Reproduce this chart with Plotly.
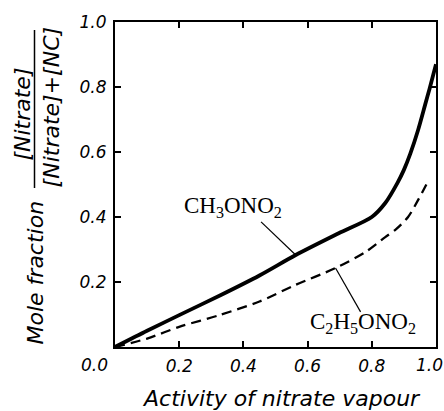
import plotly.graph_objects as go

# Data
ch3_x = [0.0, 0.1, 0.2, 0.33, 0.45, 0.563, 0.697, 0.8, 0.842, 0.88, 0.90, 0.92, 0.944, 0.966, 0.98, 1.0]
ch3_y = [0.0, 0.05, 0.098, 0.16, 0.22, 0.283, 0.35, 0.40, 0.443, 0.505, 0.545, 0.595, 0.667, 0.745, 0.795, 0.87]

c2h5_x = [0.0, 0.1, 0.2, 0.325, 0.45, 0.56, 0.687, 0.78, 0.842, 0.875, 0.913, 0.944, 0.97]
c2h5_y = [0.0, 0.026, 0.062, 0.098, 0.14, 0.19, 0.243, 0.292, 0.338, 0.362, 0.40, 0.452, 0.50]

x_tick_vals = [0.2, 0.4, 0.6, 0.8]
x_tick_text = ["0.2", "0.4", "0.6", "0.8"]
y_tick_vals = [0.2, 0.4, 0.6, 0.8, 1.0]
y_tick_text = ["0.2", "0.4", "0.6", "0.8", "1.0"]

W, H = 444, 411
L, R, T, B = 115, 438, 22, 347


def px(x):
    return (x - L) / (R - L)


def py(y):
    return (B - y) / (B - T)


sans = "DejaVu Sans"
serif = "Liberation Serif"
ital = dict(family=sans, color="black", style="italic")

fig = go.Figure()
fig.add_trace(go.Scatter(x=ch3_x, y=ch3_y, mode="lines",
                         line=dict(color="black", width=3.8, shape="spline", smoothing=0.8),
                         showlegend=False, hoverinfo="skip"))
fig.add_trace(go.Scatter(x=c2h5_x, y=c2h5_y, mode="lines",
                         line=dict(color="black", width=2.3, dash="10px,6px", shape="spline", smoothing=0.8),
                         showlegend=False, hoverinfo="skip"))

axis_common = dict(showline=True, linecolor="black", linewidth=2, mirror="ticks",
                   ticks="inside", ticklen=6, tickwidth=1.5, tickcolor="black",
                   showgrid=False, zeroline=False, range=[0, 1], ticklabelstandoff=3,
                   tickfont=dict(size=17, **ital))

fig.update_layout(
    width=W, height=H,
    margin=dict(l=L, r=W - R, t=T, b=H - B),
    paper_bgcolor="white", plot_bgcolor="white",
    xaxis=dict(tickvals=x_tick_vals, ticktext=x_tick_text, **axis_common),
    yaxis=dict(tickvals=y_tick_vals, ticktext=y_tick_text, **axis_common),
)

cm = dict(xanchor="center", yanchor="middle", showarrow=False, xref="paper", yref="paper")
annots = []
# shared 0.0 label and right-end 1.0 label
annots.append(dict(x=px(94), y=py(365), text="0.0", font=dict(size=17, **ital), **cm))
annots.append(dict(x=px(431), y=py(365), text="1.0", font=dict(size=17, **ital), **cm))
# x title
annots.append(dict(x=px(283), y=py(398), text="Activity of nitrate vapour", font=dict(size=22, **ital), **cm))
# y title
annots.append(dict(x=px(35), y=py(272), text="Mole fraction", textangle=-90, font=dict(size=22, **ital), **cm))
annots.append(dict(x=px(21), y=py(114), text="[Nitrate]", textangle=-90, font=dict(size=22, **ital), **cm))
annots.append(dict(x=px(52), y=py(107), text="[Nitrate]+[NC]", textangle=-90, font=dict(size=22, **ital), **cm))
# series labels
annots.append(dict(x=0.368, y=0.431, xref="x", yref="y", text="CH<sub>3</sub>ONO<sub>2</sub>",
                   showarrow=False, xanchor="center", yanchor="middle",
                   font=dict(family=serif, size=23, color="black")))
annots.append(dict(x=0.774, y=0.074, xref="x", yref="y", text="C<sub>2</sub>H<sub>5</sub>ONO<sub>2</sub>",
                   showarrow=False, xanchor="center", yanchor="middle",
                   font=dict(family=serif, size=23, color="black")))
fig.update_layout(annotations=annots)

# leader lines
fig.add_shape(type="line", xref="x", yref="y", x0=0.455, y0=0.385, x1=0.563, y1=0.283,
              line=dict(color="black", width=1.2))
fig.add_shape(type="line", xref="x", yref="y", x0=0.765, y0=0.108, x1=0.687, y1=0.243,
              line=dict(color="black", width=1.2))
# fraction bar
fig.add_shape(type="line", xref="paper", yref="paper", x0=px(34), x1=px(34), y0=py(30), y1=py(188),
              line=dict(color="black", width=1.5))

fig.write_html("out.html", config={"displayModeBar": False},
               post_script="document.body.style.margin='0';document.body.style.overflow='hidden';")
